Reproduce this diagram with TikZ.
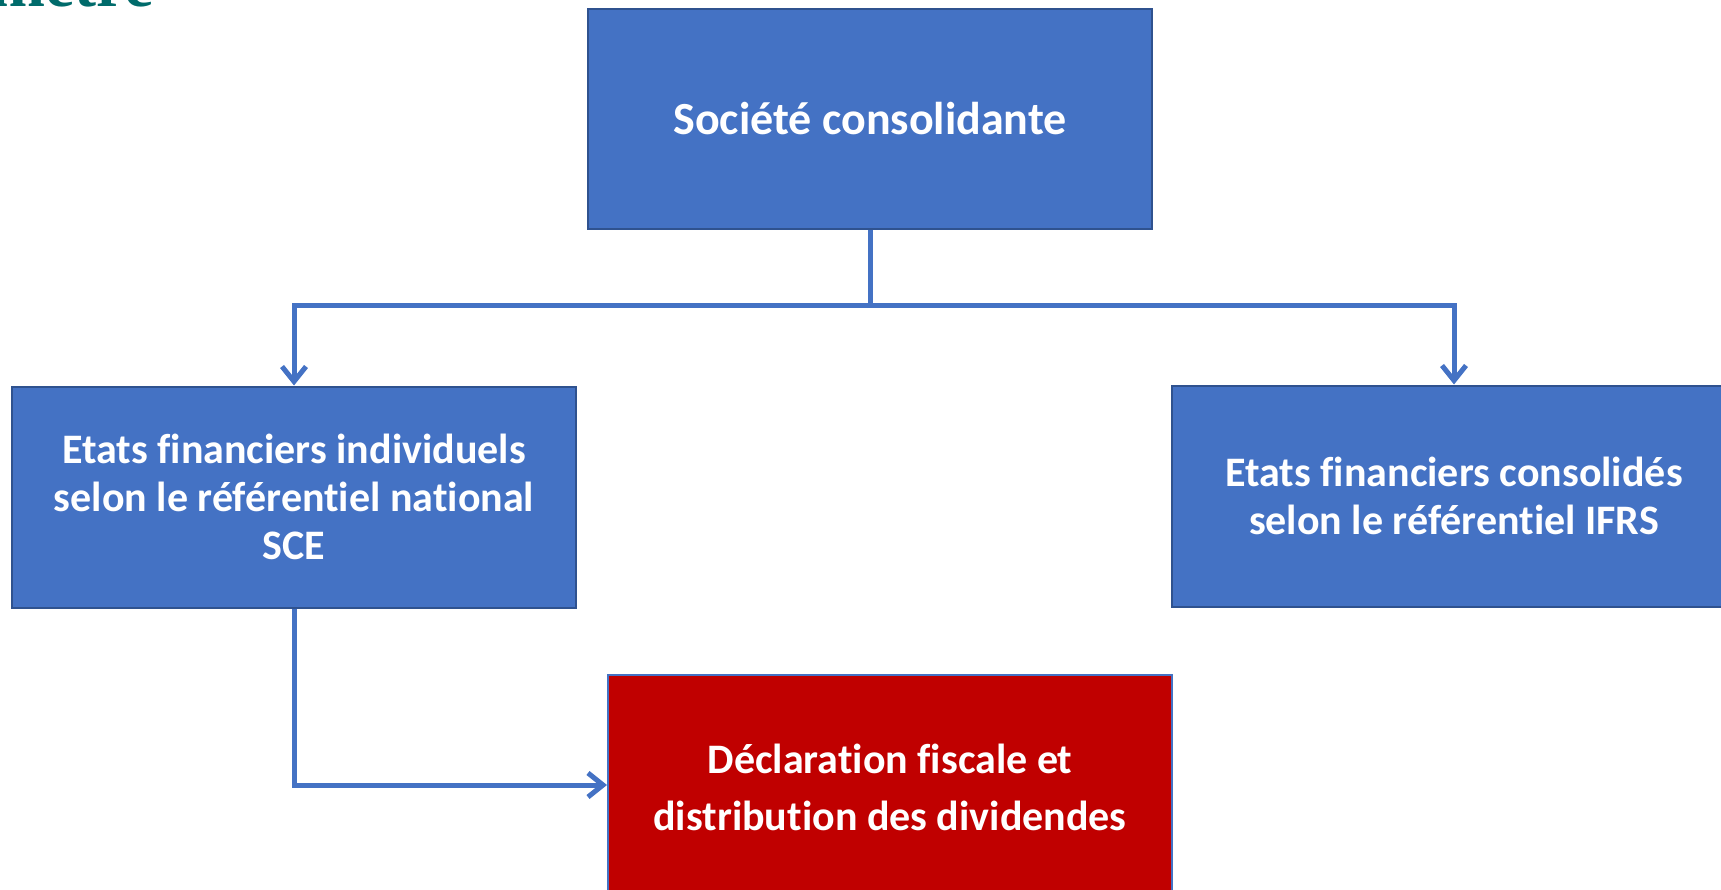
\documentclass[tikz,border=0pt]{standalone}
\usepackage{fontspec}
\setmainfont{Carlito}[Ligatures={NoCommon}]
\newfontfamily\titlefont{Liberation Serif}
\usetikzlibrary{arrows.meta}
\definecolor{boxblue}{HTML}{4472C4}
\definecolor{boxedge}{HTML}{2F528F}
\definecolor{boxred}{HTML}{C00000}
\definecolor{titleteal}{HTML}{006B6B}

\begin{document}
\begin{tikzpicture}[x=1pt,y=-1pt,line width=2pt,minimum width=564pt,minimum height=221pt,
	text=white,font=\bfseries\fontsize{42}{48}\selectfont,align=center]
	\useasboundingbox (0,0) rectangle (1721,890);
	\clip (0,0) rectangle (1721,890);
	\node (title) at (155,7) [anchor=base east,text=titleteal,minimum width=0pt,minimum height=0pt,inner sep=0pt,font=\titlefont\bfseries\fontsize{66}{70}\selectfont] {mètre};
	\node (soc) at (870,119) [rectangle,draw=boxedge,fill=boxblue,minimum height=220pt,font=\bfseries\fontsize{46}{52}\selectfont] {Société consolidante};
	\node (indiv) at (294,497) [rectangle,draw=boxedge,fill=boxblue] {Etats financiers individuels\\selon le référentiel national\\SCE};
	\node (conso) at (1454,496) [rectangle,draw=boxedge,fill=boxblue] {Etats financiers consolidés\\selon le référentiel IFRS};
	\node (decl) at (890,785) [rectangle,draw=boxblue,fill=boxred,text depth=0pt,font=\bfseries\fontsize{42}{57}\selectfont] {\raisebox{-4pt}{Déclaration fiscale et}\\\raisebox{-4pt}{distribution des dividendes}};
	\coordinate (split) at (870,306);
	\draw [boxblue,line width=5pt,-{Straight Barb[length=15pt,width=24pt,line width=5pt]}] (soc.south) -- (split) -| (indiv.north);
	\draw [boxblue,line width=5pt,-{Straight Barb[length=15pt,width=24pt,line width=5pt]}] (split) -| (conso.north);
	\draw [boxblue,line width=5pt,-{Straight Barb[length=15pt,width=24pt,line width=5pt]}] (indiv.south) |- (decl.west);
\end{tikzpicture}
\end{document}
